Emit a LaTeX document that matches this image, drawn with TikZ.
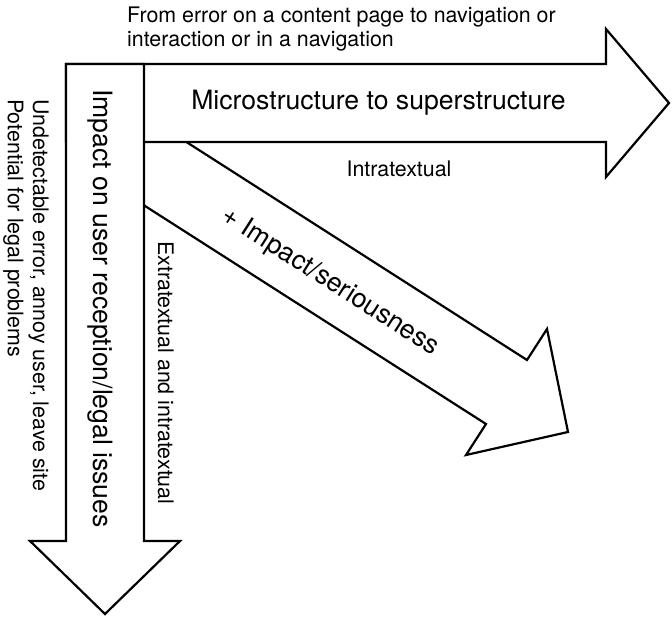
\documentclass[tikz,border=0pt]{standalone}
\usepackage{fontspec}
\setmainfont{TeX Gyre Heros}
\begin{document}
\begin{tikzpicture}[x=1pt,y=-1pt,
  blockarrow/.style={draw=black, fill=white, line width=2.2pt, line join=miter},
  small/.style={font=\fontsize{21.4}{23.5}\selectfont, inner sep=0pt},
  large/.style={font=\fontsize{26.6}{30}\selectfont, inner sep=0pt}]
\useasboundingbox (0,0) rectangle (672,617);

% diagonal arrow first: its tail is hidden under the two other arrows
\draw[blockarrow] (137.5,110.7) -- (527,360) -- (547,329) -- (568,432)
  -- (466,455) -- (486,424) -- (119.7,189.8) -- cycle;

% horizontal arrow
\draw[blockarrow] (66,64) -- (606,64) -- (606,29) -- (669,103)
  -- (606,177) -- (606,142) -- (66,142) -- cycle;

% vertical arrow
\draw[blockarrow] (66,64) -- (144,64) -- (144,541) -- (180,541)
  -- (105,614) -- (30,541) -- (66,541) -- cycle;

% labels
\node[small, anchor=base west] (src1) at (127,23) {From error on a content page to navigation or};
\node[small, anchor=base west] (src2) at (127,46.5) {interaction or in a navigation};
\node[large, anchor=base] (micro) at (378.5,109.5) {Microstructure to superstructure};
\node[small, anchor=base] (intra) at (399,176.7) {Intratextual};
\node[large, rotate=-32.6] (impact) at (330,282) {+ Impact/seriousness};
\node[large, rotate=-90, anchor=base] (user) at (93,308.5) {Impact on user reception/legal issues};
\node[small, rotate=-90, anchor=base west] (undet) at (33,99) {Undetectable error, annoy user, leave site};
\node[small, rotate=-90, anchor=base west] (legal) at (8,99) {Potential for legal problems};
\node[small, rotate=-90, anchor=base west] (extra) at (158,241) {Extratextual and intratextual};
\end{tikzpicture}
\end{document}
